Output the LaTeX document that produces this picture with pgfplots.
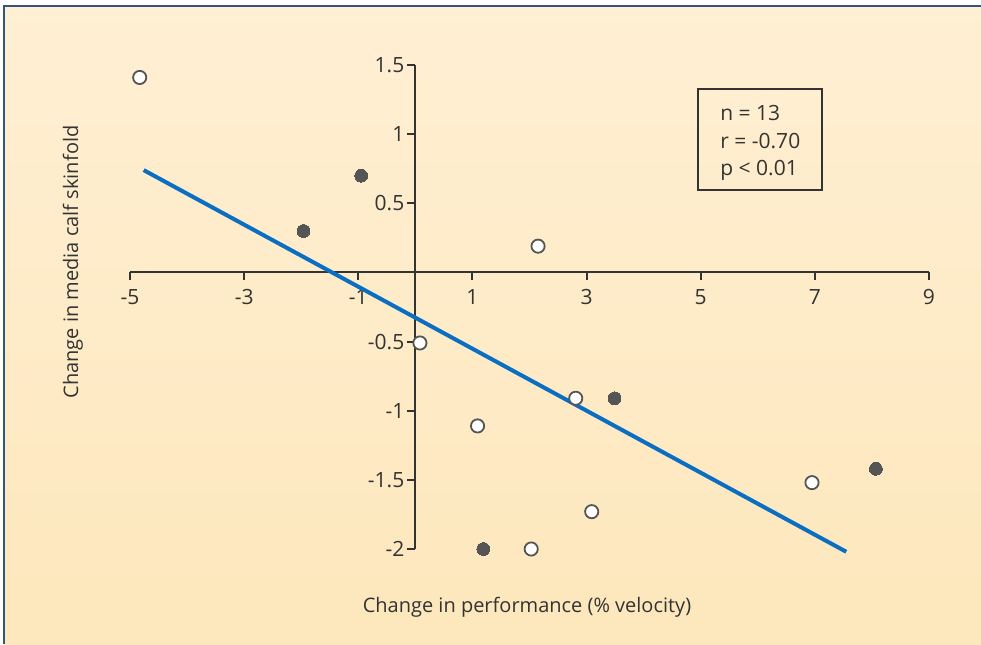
\documentclass[border=0pt]{standalone}
\usepackage{fontspec}
\setmainfont{Open Sans}
\usepackage{pgfplots}
\pgfplotsset{compat=1.18}
\definecolor{bgtop}{HTML}{FFEFD3}
\definecolor{bgbot}{HTML}{FDE7BC}
\definecolor{framecol}{HTML}{34557F}
\definecolor{ink}{HTML}{333333}
\definecolor{dotgray}{HTML}{555555}
\definecolor{fitblue}{HTML}{0A6FC2}

\begin{document}
\begin{tikzpicture}
% page and panel background
\useasboundingbox (-65pt,-47.5pt) rectangle (425.5pt,274.5pt);
\fill[white] (-65pt,-47.5pt) rectangle (425.5pt,274.5pt);
\shade[top color=bgtop,bottom color=bgbot] (-63pt,-47.5pt) rectangle (425.5pt,271.5pt);
\draw[framecol,line width=0.8pt] (-63pt,-47.5pt) -- (-63pt,271.5pt) -- (425.5pt,271.5pt);

\begin{axis}[
  at={(0pt,0pt)}, anchor=south west,
  scale only axis, width=399.5pt, height=242pt,
  xmin=-5, xmax=9, ymin=-2, ymax=1.5,
  axis lines=middle,
  axis line style={ink,line width=1pt,-},
  xtick={-5,-3,...,9},
  ytick={-2,-1.5,-1,-0.5,0.5,1,1.5},
  tick align=outside,
  major tick length=4pt,
  tick style={ink,line width=1pt},
  ticklabel style={font=\fontsize{10.5}{12}\selectfont, text=ink},
  yticklabel style={xshift=2pt},
  xticklabel style={yshift=-1pt},
  /pgf/number format/assume math mode=true,
  clip=false,
]
% open circles
\addplot[only marks, mark=*, mark size=3.3pt,
  mark options={fill=white, draw=dotgray, line width=0.9pt}]
  coordinates {(-4.83,1.41) (2.15,0.19) (0.08,-0.51) (1.09,-1.11)
               (2.81,-0.91) (3.09,-1.73) (2.03,-2.0) (6.95,-1.52)};
% filled circles
\addplot[only marks, mark=*, mark size=3.2pt,
  mark options={fill=dotgray, draw=dotgray, line width=0pt}]
  coordinates {(-0.95,0.70) (-1.96,0.30) (3.49,-0.91) (1.19,-2.0) (8.07,-1.42)};
% regression line
\addplot[fitblue, line width=2pt] coordinates {(-4.76,0.74) (7.55,-2.02)};
\end{axis}

% axis titles
\node[text=ink, font=\fontsize{10}{12}\selectfont] at (198.5pt,-29pt)
  {Change in performance (\% velocity)};
\node[text=ink, font=\fontsize{10}{12}\selectfont, rotate=90] at (-28.5pt,143.5pt)
  {Change in media calf skinfold};

% statistics box
\draw[ink, line width=0.6pt] (284pt,230pt) rectangle (346pt,179.5pt);
\node[anchor=west, align=left, text=ink, inner sep=0pt,
  font=\fontsize{10.5}{13.8}\selectfont] at (295pt,203pt)
  {n = 13\\r = -0.70\\p < 0.01};
\end{tikzpicture}
\end{document}
